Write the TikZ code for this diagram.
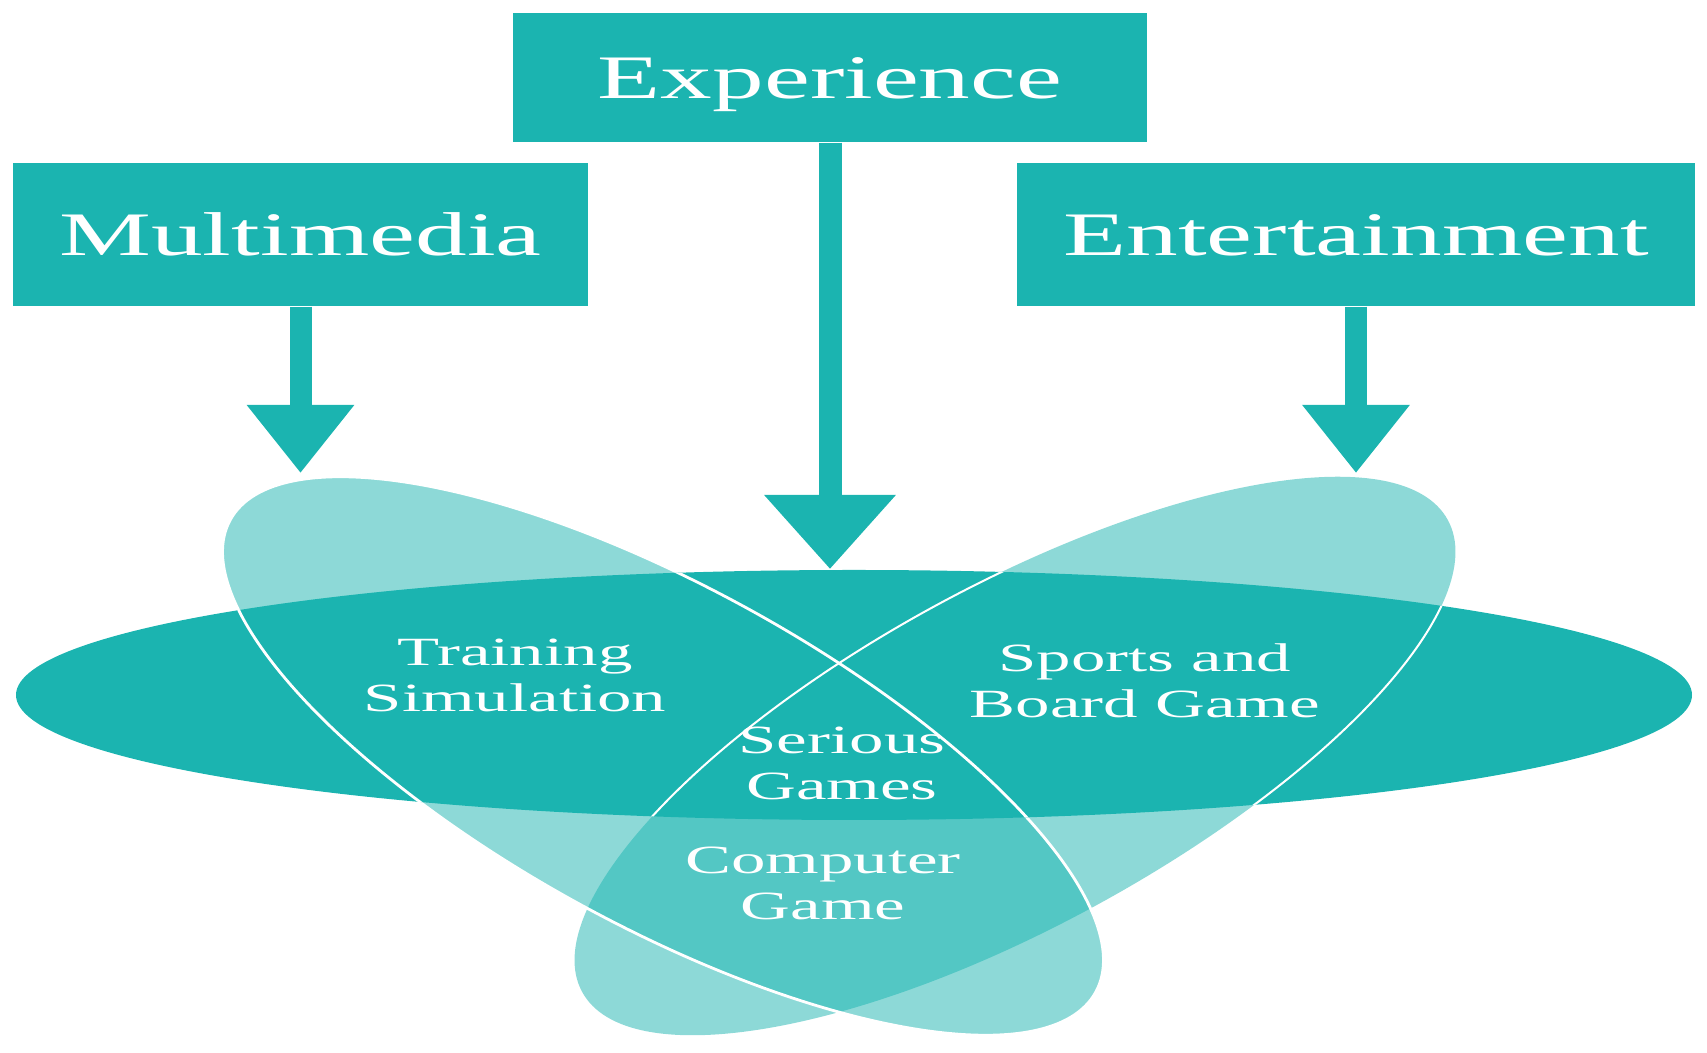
\documentclass[tikz,border=0pt]{standalone}
\usepackage{fontspec}
\setmainfont{Liberation Serif}
\usetikzlibrary{arrows.meta}
\definecolor{tealc}{RGB}{27,180,176}
\begin{document}
\begin{tikzpicture}[x=0.1mm,y=0.1mm,
  catbox/.style={fill=tealc, draw=none, inner sep=0pt, text=white,
    font=\fontsize{17.6pt}{20pt}\selectfont, text height=4.3mm, text depth=0mm},
  lbl/.style={text=white, inner sep=0pt, align=center, xscale=1.72,
    font=\fontsize{11.4pt}{13.1pt}\selectfont, anchor=base},
  feed/.style={draw=tealc, line width=2.2mm, -{Triangle[width=10.3mm,length=6.8mm]}},
  bigfeed/.style={draw=tealc, line width=2.3mm, -{Triangle[width=12.7mm,length=7.4mm]}},
  lightset/.style={fill=tealc, fill opacity=0.5},
]
\useasboundingbox (0,0) rectangle (1707,1053);
% tilted sets
\fill[lightset, rotate around={28.6:(1015,297)}] (1015,297) ellipse [x radius=493, y radius=170];
\fill[lightset, rotate around={-28.6:(663,297)}] (663,297) ellipse [x radius=493, y radius=170];
\draw[white, line width=0.28mm, rotate around={-28.6:(663,297)}] (663,297) ellipse [x radius=493, y radius=170];
% horizontal set
\fill[tealc] (854,358) ellipse [x radius=838, y radius=125];
\begin{scope}
  \clip (854,358) ellipse [x radius=838, y radius=125];
  \draw[white, line width=0.28mm, rotate around={-28.6:(663,297)}] (663,297) ellipse [x radius=493, y radius=170];
  \draw[white, line width=0.2mm, rotate around={28.6:(1015,297)}] (1015,297) ellipse [x radius=493, y radius=170];
\end{scope}
% boxes
\node[catbox, minimum width=63.4mm, minimum height=12.9mm] (exp) at (830,975.5) {\scalebox{1.67}[1]{Experience}};
\node[catbox, minimum width=57.5mm, minimum height=14.3mm] (mm) at (300.5,818.5) {\scalebox{1.67}[1]{Multimedia}};
\node[catbox, minimum width=67.8mm, minimum height=14.3mm] (ent) at (1356,818.5) {\scalebox{1.67}[1]{Entertainment}};
% arrow tips
\coordinate (mmtip) at (300.5,580);
\coordinate (exptip) at (830,484);
\coordinate (enttip) at (1356,580);
\draw[feed] (mm.south) -- (mmtip);
\draw[bigfeed] (exp.south) -- (exptip);
\draw[feed] (ent.south) -- (enttip);
% region labels (base = baseline of the last line)
\node[lbl] (train) at (515,341) {Training\\Simulation};
\node[lbl] (sports) at (1145,335) {Sports and\\Board Game};
\node[lbl] (serious) at (842,253) {Serious\\Games};
\node[lbl] (computer) at (823,133) {Computer\\Game};
\end{tikzpicture}
\end{document}
